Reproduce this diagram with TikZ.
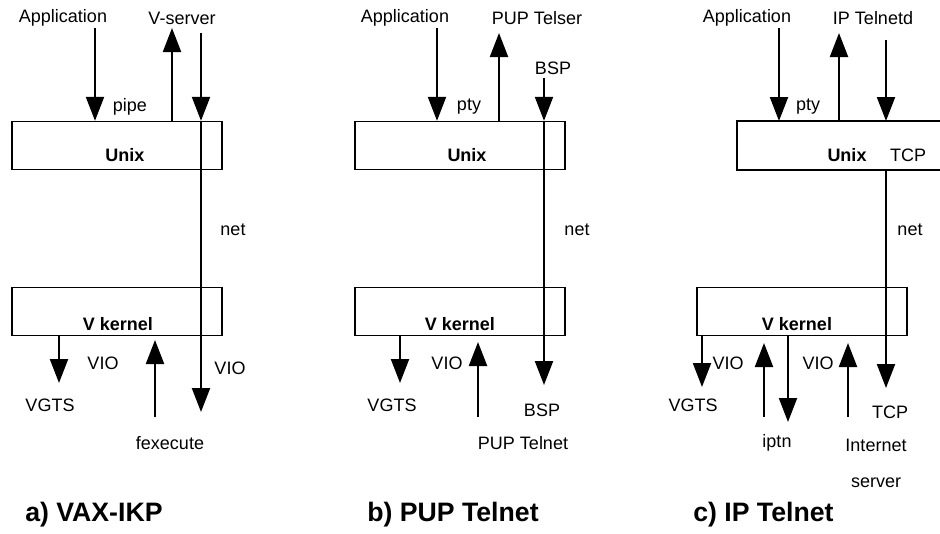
\documentclass[tikz,border=0pt]{standalone}
\usepackage{fontspec}
\setmainfont{Liberation Sans}
\usetikzlibrary{arrows.meta,positioning}
\tikzset{
  capa/.style={draw,line width=1pt,minimum width=157.5pt,minimum height=36pt,inner sep=0pt},
  borde/.style={line width=1pt},
  flecha/.style={line width=1.6pt,-{Triangle[length=18pt,width=13.5pt]}},
  linea/.style={line width=1.6pt},
  etiq/.style={font=\fontsize{13.5}{15}\selectfont,inner sep=1pt},
  etiqb/.style={font=\fontsize{13.5}{15}\selectfont\bfseries,inner sep=1pt},
  titulo/.style={font=\fontsize{20}{22}\selectfont\bfseries,anchor=west,inner sep=0pt}
}

\begin{document}
\begin{tikzpicture}[x=0.75pt,y=-0.75pt]
        \useasboundingbox (0,0) rectangle (940,533);
        % a) VAX-IKP
        \node[capa] (unixa) at (117,145.5) {};
        \node[capa] (vka) at (117,311.5) {};
        \node[etiqb] (unixat) at (125,155) {Unix};
        \node[etiqb] (vkat) at (118,324) {V kernel};
        \node[etiq] (appa) at (63,18) {Application};
        \node[etiq] (vserv) at (182,18) {V-server};
        \node[etiq] (pipe) at (130,107) {pipe};
        \node[etiq] (neta) at (233,230) {net};
        \node[etiq] (vgtsa) at (50,405) {VGTS};
        \node[etiq] (vioa) at (103,363) {VIO};
        \node[etiq] (viob) at (230,368) {VIO};
        \node[etiq] (fexec) at (170,443) {fexecute};
        \draw[flecha] (95,28) -- (95,28 |- unixa.north);
        \draw[flecha] (172,28 |- unixa.north) -- (172,28);
        \draw[flecha] (201,33) -- (201,33 |- unixa.north);
        \draw[flecha] (201,33 |- unixa.north) -- (201,412);
        \draw[flecha] (59,0 |- vka.south) -- (59,383);
        \draw[flecha] (155,417) -- (155,340);
        \node[titulo] (tita) at (25,515) {a) VAX-IKP};
        % b) PUP Telnet
        \node[capa] (unixb) at (460,145.5) {};
        \node[capa] (vkb) at (460,311.5) {};
        \node[etiqb] (unixbt) at (467,155) {Unix};
        \node[etiqb] (vkbt) at (460,324) {V kernel};
        \node[etiq] (appb) at (405,18) {Application};
        \node[etiq] (telser) at (537,18) {PUP Telser};
        \node[etiq] (bspa) at (553,68) {BSP};
        \node[etiq] (ptyb) at (469,107) {pty};
        \node[etiq] (netb) at (577,230) {net};
        \node[etiq] (vgtsb) at (392,405) {VGTS};
        \node[etiq] (vioc) at (447,363) {VIO};
        \node[etiq] (puptel) at (523,443) {PUP Telnet};
        \node[etiq] (bspb) at (542,410) {BSP};
        \draw[flecha] (437,28) -- (437,28 |- unixb.north);
        \draw[flecha] (499,33 |- unixb.north) -- (499,33);
        \draw[flecha] (544,78) -- (544,78 |- unixb.north);
        \draw[flecha] (544,78 |- unixb.north) -- (544,385);
        \draw[flecha] (400,0 |- vkb.south) -- (400,383);
        \draw[flecha] (478,417) -- (478,342);
        \node[titulo] (titb) at (367,515) {b) PUP Telnet};
        % c) IP Telnet
        \draw[borde] (940,121) -| (737,170) -- (940,170);
        \coordinate (unixc) at (838,121);
        \coordinate (unixcs) at (838,170);
        \node[capa] (vkc) at (802,311.5) {};
        \node[etiqb] (unixct) at (847,155) {Unix};
        \node[etiq] (tcpa) at (908,155) {TCP};
        \node[etiqb] (vkct) at (797,324) {V kernel};
        \node[etiq] (appc) at (747,18) {Application};
        \node[etiq] (telnetd) at (873,18) {IP Telnetd};
        \node[etiq] (ptyc) at (808,107) {pty};
        \node[etiq] (netc) at (910,230) {net};
        \node[etiq] (vgtsc) at (693,405) {VGTS};
        \node[etiq] (viod) at (728,363) {VIO};
        \node[etiq] (vioe) at (818,363) {VIO};
        \node[etiq] (iptn) at (777,443) {iptn};
        \node[etiq,align=center] (inet) at (876,463) {Internet\\[12pt]server};
        \node[etiq] (tcpb) at (890,412) {TCP};
        \draw[flecha] (779,28) -- (779,28 |- unixc);
        \draw[flecha] (839,33 |- unixc) -- (839,33);
        \draw[flecha] (886,40) -- (886,40 |- unixc);
        \draw[flecha] (886,0 |- unixcs) -- (886,388);
        \draw[flecha] (702,0 |- vkc.south) -- (702,387);
        \draw[flecha] (764,417) -- (764,343);
        \draw[flecha] (788,0 |- vkc.south) -- (788,422);
        \draw[flecha] (848,417) -- (848,343);
        \node[titulo] (titc) at (693,515) {c) IP Telnet};
      \end{tikzpicture}
\end{document}
